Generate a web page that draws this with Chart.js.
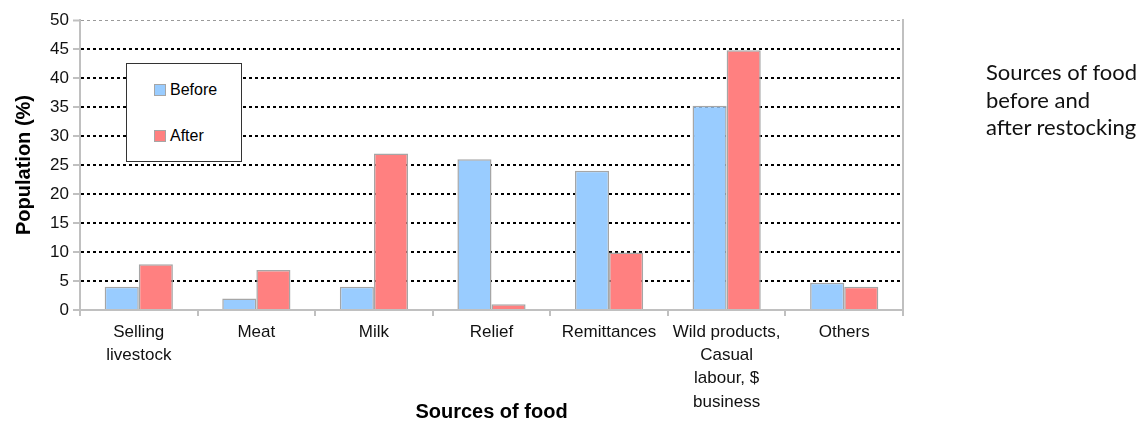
<!DOCTYPE html>
<html>
<head>
<meta charset="utf-8">
<script src="https://cdn.jsdelivr.net/npm/chart.js@4"></script>
<style>
  body { margin: 0; background: #fff; }
  #wrap { position: relative; width: 1148px; height: 423px; }
  #legend { position: absolute; left: 126px; top: 63px; width: 114px; height: 97px;
            border: 1px solid #333; background: #fff; font: 16px "Liberation Sans", Arial, sans-serif; }
  #legend .item { position: absolute; left: 27px; height: 14px; line-height: 14px; }
  #legend .sw { display: inline-block; width: 10px; height: 10px; border: 1px solid #a6a6a6;
                vertical-align: -1px; margin-right: 4px; }
  #side { position: absolute; left: 986px; top: 58px; font: 22px Lato, "Open Sans", sans-serif;
          line-height: 27.5px; color: #111; }
</style>
</head>
<body>
<div id="wrap">
  <canvas id="myChart" width="1148" height="423"></canvas>
  <div id="legend"></div>
  <div id="side">Sources of food<br>before and<br>after restocking</div>
</div>
<script>
// ---------------------------- data
var categories = [
  ['Selling', 'livestock'],
  'Meat',
  'Milk',
  'Relief',
  'Remittances',
  ['Wild products,', 'Casual', 'labour, $', 'business'],
  'Others'
];
var before_vals = [4, 2, 4, 26, 24, 35.2, 4.7];
var after_vals = [7.9, 6.9, 27, 1, 9.9, 44.8, 4];
var y_ticks = [0, 5, 10, 15, 20, 25, 30, 35, 40, 45, 50];

var series_names = ['Before', 'After'];
var series_colors = ['#99ccff', '#ff8080'];

const data = {
  labels: categories,
  datasets: [{
    label: series_names[0],
    backgroundColor: series_colors[0],
    borderColor: '#a6a6a6',
    borderWidth: 1.5,
    data: before_vals,
  }, {
    label: series_names[1],
    backgroundColor: series_colors[1],
    borderColor: '#a6a6a6',
    borderWidth: 1.5,
    data: after_vals,
  }]
};

const font_x = { family: '"Liberation Sans", Arial, sans-serif', size: 17, lineHeight: 1.36 };
const font_y = { family: '"Liberation Sans", Arial, sans-serif', size: 17 };
const font_title = { family: '"Liberation Sans", Arial, sans-serif', size: 20, weight: 'bold', lineHeight: 1 };

const config = {
  type: 'bar',
  data: data,
  options: {
    responsive: false,
    animation: false,
    layout: { padding: { left: 0, right: 245, top: 20, bottom: 0 } },
    categoryPercentage: 0.58,
    barPercentage: 1.0,
    plugins: { legend: { display: false }, tooltip: { enabled: false } },
    scales: {
      x: {
        grid: { offset: true, drawOnChartArea: false, color: '#c0c0c0', tickLength: 6, lineWidth: 2 },
        border: { color: '#c0c0c0', width: 2 },
        ticks: { color: '#111', font: font_x, padding: 5, maxRotation: 0, autoSkip: false },
        title: { display: true, text: 'Sources of food', color: '#000', font: font_title, padding: { top: 0, bottom: 1 } },
        afterFit: function (scale) { scale.height = 113; }
      },
      y: {
        min: 0, max: 50,
        afterBuildTicks: function (scale) { scale.ticks = y_ticks.map(function (v) { return { value: v }; }); },
        grid: {
          color: function (ctx) { return ctx.tick && ctx.tick.value === 50 ? '#9a9a9a' : '#000'; },
          lineWidth: function (ctx) { return ctx.tick && ctx.tick.value === 50 ? 1 : 2; },
          tickColor: '#c0c0c0', tickLength: 7, tickWidth: 2, tickBorderDash: []
        },
        border: { color: '#c0c0c0', width: 2, dash: [3, 3] },
        ticks: { color: '#111', font: font_y, padding: 4 },
        title: { display: true, text: 'Population (%)', color: '#000', font: font_title, padding: { top: 14, bottom: 0 } },
        afterFit: function (scale) { scale.width = 80; }
      },
      y2: {
        position: 'right',
        min: 0, max: 50,
        grid: { drawOnChartArea: false, drawTicks: false },
        border: { color: '#c0c0c0', width: 2 },
        ticks: { display: false },
        afterFit: function (scale) { scale.width = 0; }
      }
    }
  }
};

const myChart = new Chart(document.getElementById('myChart'), config);

// -------------------- legend box
var legend_html = '';
var legend_tops = [19, 65];
for (var i = 0; i < data.datasets.length; i++) {
  legend_html += '<div class="item" style="top:' + legend_tops[i] + 'px"><span class="sw" style="background:' +
    data.datasets[i].backgroundColor + '"></span>' + data.datasets[i].label + '</div>';
}
document.getElementById('legend').innerHTML = legend_html;
</script>
</body>
</html>
